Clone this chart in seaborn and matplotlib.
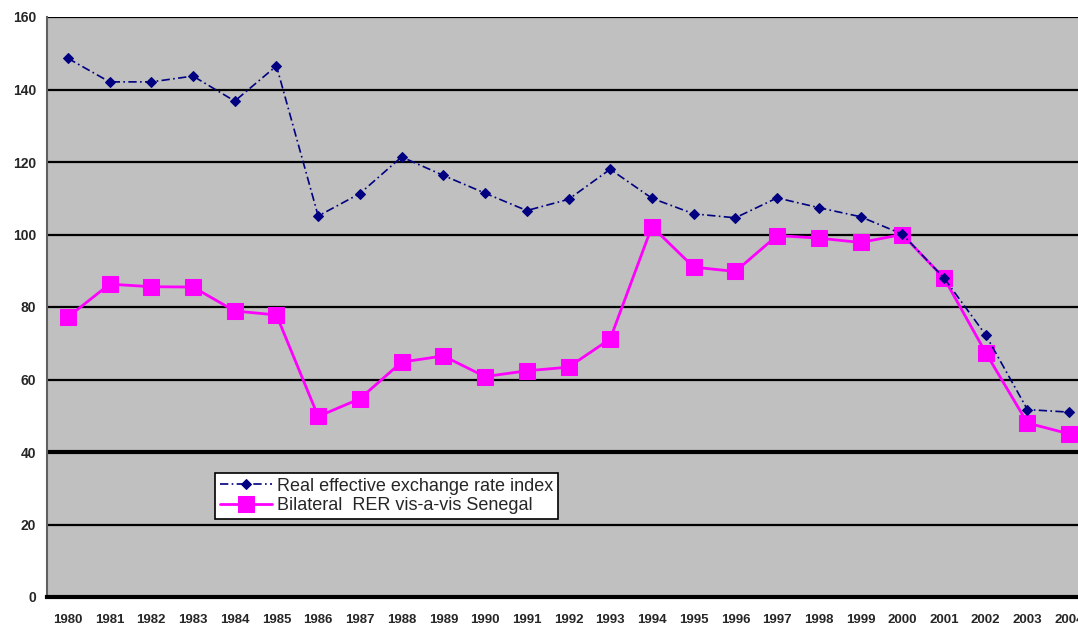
import matplotlib
matplotlib.use("Agg")
import matplotlib.pyplot as plt
import matplotlib.ticker as ticker
import seaborn as sns
import pandas as pd

years = list(range(1980, 2005))
reer_index = [148.6, 142.1, 142.1, 143.7, 136.8, 146.5, 105.1, 111.3, 121.4, 116.3,
              111.4, 106.6, 109.7, 118.0, 110.0, 105.7, 104.6, 110.1, 107.4, 104.9,
              100.1, 88.0, 72.3, 51.7, 51.0]
bilateral_rer = [77.2, 86.3, 85.6, 85.5, 78.9, 77.8, 49.8, 54.7, 64.8, 66.5,
                 60.8, 62.4, 63.4, 71.2, 102.2, 91.0, 89.8, 99.7, 99.0, 97.8,
                 100.0, 88.0, 67.4, 48.0, 45.0]
reer_label = "Real effective exchange rate index"
bilateral_label = "Bilateral  RER vis-a-vis Senegal"

df = pd.DataFrame({"pos": range(len(years)), "year": years,
                   "reer": reer_index, "bilateral": bilateral_rer})

sns.set_style("white")
plt.rcParams["font.family"] = ["Liberation Sans", "DejaVu Sans"]

fig = plt.figure(figsize=(10.78, 6.29), dpi=100)
fig.patch.set_facecolor("white")
# plot area runs past the right edge, as in the cropped original
ax = fig.add_axes([47 / 1078, 32 / 629, 1043 / 1078, 580 / 629])
ax.set_facecolor("#c0c0c0")

for v in range(20, 161, 20):
    ax.axhline(v, color="black", lw=3 if v == 40 else 1.6, zorder=1)

sns.lineplot(data=df, x="pos", y="reer", ax=ax, color="#000080", lw=1.2,
             linestyle=(0, (5, 2, 1, 2)), marker="D", markersize=5,
             markeredgecolor="#000080", label=reer_label, zorder=4)
sns.lineplot(data=df, x="pos", y="bilateral", ax=ax, color="#ff00ff", lw=2.0,
             linestyle="-", marker="s", markersize=11,
             markeredgecolor="#ff00ff", label=bilateral_label, zorder=3)

ax.set_xlim(-0.5, len(years) - 0.5)
ax.set_ylim(0, 160)
ax.yaxis.set_major_locator(ticker.MultipleLocator(20))
ax.xaxis.set_major_locator(ticker.FixedLocator([i - 0.5 for i in range(len(years) + 1)]))
ax.xaxis.set_major_formatter(ticker.NullFormatter())
ax.xaxis.set_minor_locator(ticker.FixedLocator(list(range(len(years)))))
ax.xaxis.set_minor_formatter(ticker.FixedFormatter([str(y) for y in years]))
ax.tick_params(axis="x", which="major", direction="out", length=5, width=2, color="black")
ax.tick_params(axis="x", which="minor", length=0, pad=12, labelsize=9.5)
ax.tick_params(axis="y", direction="out", length=5, width=2, color="black", labelsize=10, pad=3)
for t in ax.get_xticklabels(minor=True) + ax.get_yticklabels():
    t.set_fontweight("bold")
ax.set_xlabel("")
ax.set_ylabel("")

for s in ["top", "right"]:
    ax.spines[s].set_visible(False)
ax.spines["left"].set_color("#606060")
ax.spines["left"].set_linewidth(1.5)
ax.spines["bottom"].set_color("black")
ax.spines["bottom"].set_linewidth(3)

leg = ax.legend(loc="upper left", bbox_to_anchor=(215 / 1078, 1 - 473 / 629),
                bbox_transform=fig.transFigure, borderaxespad=0, fontsize=13,
                frameon=True, fancybox=False, handlelength=2.9, handletextpad=0.3,
                borderpad=0.25, labelspacing=0.15)
leg.get_frame().set_edgecolor("black")
leg.get_frame().set_linewidth(1.2)
leg.get_frame().set_facecolor("white")
leg.get_frame().set_alpha(1)

fig.savefig("out.png", dpi=100)
